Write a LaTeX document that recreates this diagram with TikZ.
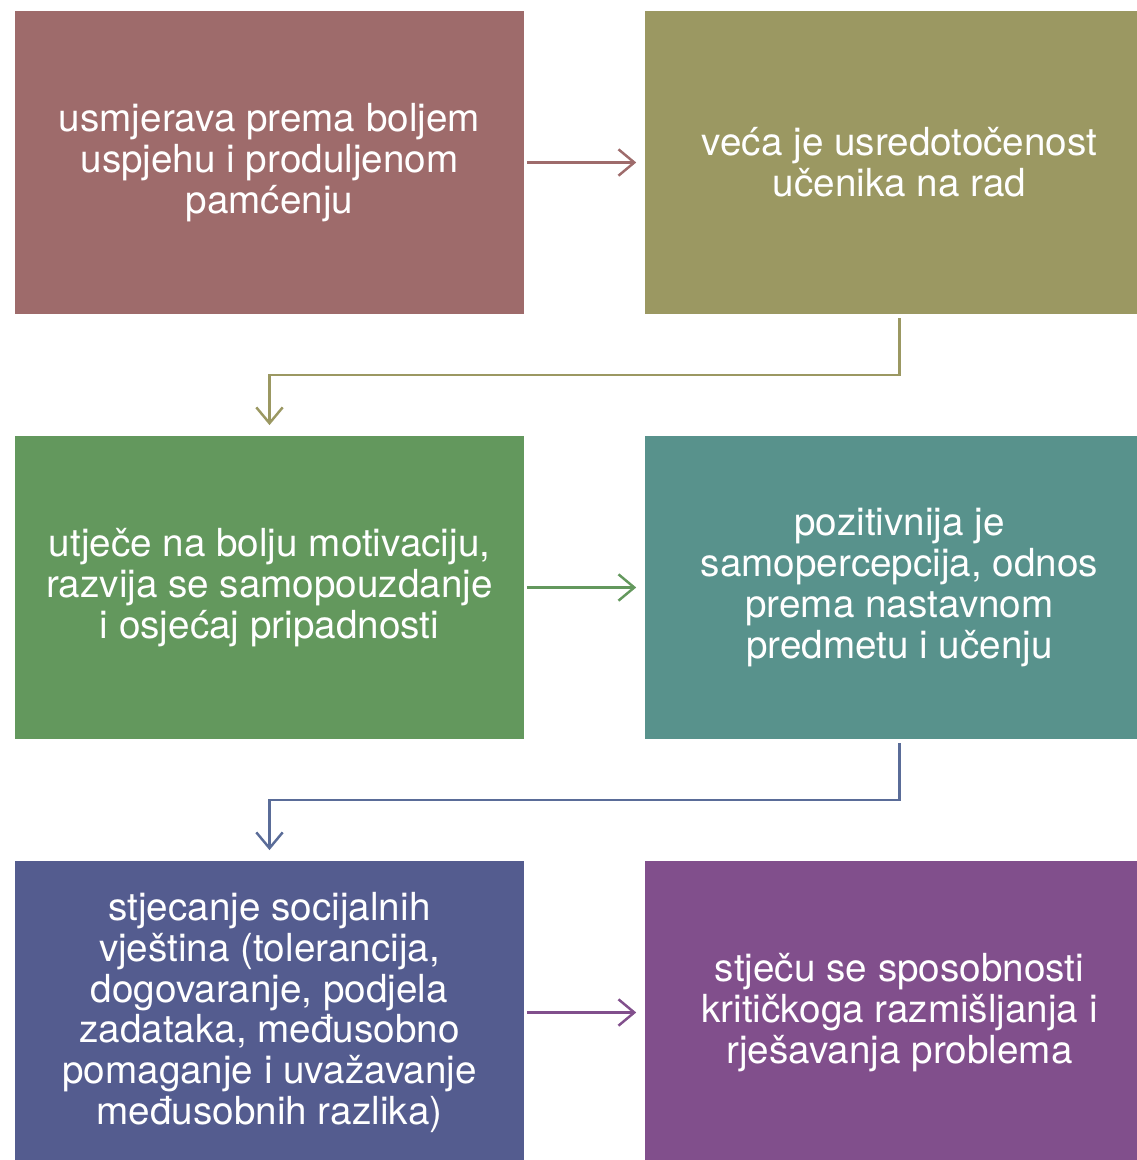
\documentclass[tikz,border=0pt]{standalone}
\usepackage{fontspec}
\setmainfont{TeX Gyre Heros}
\usetikzlibrary{arrows.meta,positioning}

\definecolor{boxrose}{RGB}{158,107,107}
\definecolor{boxolive}{RGB}{155,152,98}
\definecolor{boxgreen}{RGB}{99,152,93}
\definecolor{boxteal}{RGB}{88,146,140}
\definecolor{boxblue}{RGB}{84,92,143}
\definecolor{boxviolet}{RGB}{129,79,140}
\definecolor{linksteel}{RGB}{90,108,152}

\begin{document}
\begin{tikzpicture}[->,>={Straight Barb[length=9pt,width=15pt]},line width=1.4pt]
\tikzstyle{box}=[rectangle,draw=none,text=white,minimum width=10.18cm,minimum height=6.06cm,align=center,inner sep=0pt,outer sep=0pt,font=\fontsize{22}{23.2}\selectfont]
\useasboundingbox (0,0) rectangle (22.74,-23.2);

\node[box,fill=boxrose]    (A) at (5.39,-3.25) {usmjerava prema boljem\\uspjehu i produljenom\\pamćenju};
\node[box,fill=boxolive]   (B) [right=2.42cm of A] {veća je usredotočenost\\učenika na rad};
\node[box,fill=boxgreen]   (C) [below=2.44cm of A] {utječe na bolju motivaciju,\\razvija se samopouzdanje\\i osjećaj pripadnosti};
\node[box,fill=boxteal]    (D) [right=2.42cm of C] {pozitivnija je\\samopercepcija, odnos\\prema nastavnom\\predmetu i učenju};
\node[box,fill=boxblue]    (E) [below=2.44cm of C] {stjecanje socijalnih\\vještina (tolerancija,\\dogovaranje, podjela\\zadataka, međusobno\\pomaganje i uvažavanje\\međusobnih razlika)};
\node[box,fill=boxviolet]  (F) [right=2.42cm of E] {stječu se sposobnosti\\kritičkoga razmišljanja i\\rješavanja problema};

\path[shorten <=1.7pt,shorten >=5pt]
(A) edge[draw=boxrose] (B)
(C) edge[draw=boxgreen] (D)
(E) edge[draw=boxviolet] (F)
;
\draw[boxolive,shorten <=2.3pt,shorten >=6.2pt] (B.south) -- ++(0,-1.22) -| (C.north);
\draw[linksteel,shorten <=2.3pt,shorten >=6.2pt] (D.south) -- ++(0,-1.22) -| (E.north);
\end{tikzpicture}
\end{document}
